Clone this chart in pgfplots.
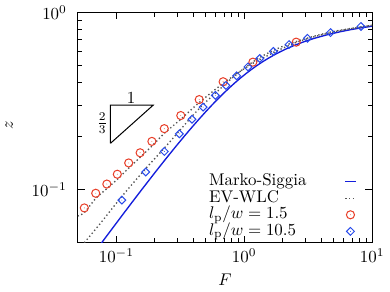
\documentclass[border=0pt]{standalone}
\usepackage{pgfplots}
\pgfplotsset{compat=1.18}
\definecolor{msblue}{RGB}{20,30,220}
\definecolor{dblue}{RGB}{40,75,235}
\definecolor{cred}{RGB}{232,62,40}
\definecolor{dgray}{RGB}{85,85,85}
\pgfdeclareplotmark{odot}{%
  \pgfpathcircle{\pgfpoint{0pt}{0pt}}{\pgfplotmarksize}\pgfusepathqstroke
  \pgfpathcircle{\pgfpoint{0pt}{0pt}}{0.25pt}\pgfusepathqfill}
\pgfdeclareplotmark{ddot}{%
  \pgfpathmoveto{\pgfpoint{0pt}{\pgfplotmarksize}}%
  \pgfpathlineto{\pgfpoint{\pgfplotmarksize}{0pt}}%
  \pgfpathlineto{\pgfpoint{0pt}{-\pgfplotmarksize}}%
  \pgfpathlineto{\pgfpoint{-\pgfplotmarksize}{0pt}}%
  \pgfpathclose\pgfusepathqstroke
  \pgfpathcircle{\pgfpoint{0pt}{0pt}}{0.25pt}\pgfusepathqfill}
\pgfplotsset{
  lineleg/.style={legend image code/.code={\draw[##1, draw=#1] (0.19cm,0cm) -- (0.41cm,0cm);}},
}
\begin{document}
\begin{tikzpicture}
\begin{axis}[
  xmode=log, ymode=log,
  xmin=0.05, xmax=10, ymin=0.05, ymax=1,
  width=174pt, height=136pt, scale only axis,
  axis line style={line width=0.7pt},
  tick style={line width=0.5pt, black},
  major tick length=4pt, minor tick length=2.5pt,
  tick align=inside,
  xtick={0.1,1,10}, ytick={0.1,1},
  yticklabel style={xshift=-3pt},
  xlabel={$F$}, ylabel={$z$},
  ylabel style={at={(axis description cs:-0.233,0.508)}, anchor=center, rotate=0},
  legend plot pos=right,
  legend cell align=left,
  legend style={draw=none, fill=none, inner sep=0pt,
    at={(axis description cs:0.445,0.30)}, anchor=north west,
    nodes={inner sep=0pt, text height=7pt, text depth=2.2pt},
    row sep=0.6pt, column sep=22.5pt},
]
% Marko-Siggia
\addplot[color=msblue, line width=0.8pt, lineleg=msblue]
coordinates {
(0.069116,0.045) (0.07701,0.05) (0.092933,0.06) (0.10905,0.07) (0.133606,0.085)
(0.15864,0.1) (0.201531,0.125) (0.24602,0.15) (0.292309,0.175) (0.340625,0.2)
(0.391233,0.225) (0.44444,0.25) (0.500624,0.275) (0.560204,0.3) (0.623697,0.325)
(0.691716,0.35) (0.765,0.375) (0.844444,0.4) (0.931144,0.425) (1.026446,0.45)
(1.132029,0.475) (1.25,0.5) (1.383033,0.525) (1.534568,0.55) (1.709083,0.575)
(1.9125,0.6) (2.101302,0.62) (2.440816,0.65) (2.871406,0.68) (3.227778,0.7)
(3.658776,0.72) (4.5,0.75) (5.695289,0.78) (6.8,0.8) (8.286049,0.82) (10.355625,0.84)
};
\addlegendentry{Marko-Siggia}
% EV-WLC, lp/w = 1.5
\addplot[color=dgray, line width=0.8pt, dash pattern=on 0.8pt off 1.5pt, smooth, lineleg=dgray]
coordinates {
(0.0497,0.07064) (0.05617,0.07385) (0.06903,0.08882) (0.08427,0.1009) (0.1018,0.1139)
(0.1249,0.1318) (0.1535,0.1517) (0.1897,0.1756) (0.2374,0.2073) (0.3192,0.2492)
(0.4448,0.3096) (0.6841,0.3970) (1.168,0.5157) (2.552,0.6780) (5.141,0.7800) (10.05,0.8474)
};
\addlegendentry{EV-WLC}
% EV-WLC, lp/w = 10.5
\addplot[color=dgray, line width=0.8pt, dash pattern=on 0.8pt off 1.5pt, smooth, forget plot]
coordinates {
(0.05617,0.04985) (0.07447,0.06376) (0.1104,0.09112) (0.1698,0.1310) (0.2374,0.1712)
(0.3110,0.2140) (0.3912,0.2590) (0.4775,0.3018) (0.5941,0.3495) (0.8730,0.4480)
(1.322,0.5564) (2.244,0.6651) (4.709,0.7750) (10.05,0.8474)
};
% lp/w = 1.5
\addplot[only marks, mark=odot, mark size=2.4pt, color=cred, mark options={line width=0.6pt}]
coordinates {
(0.0562,0.0785) (0.0690,0.0950) (0.0843,0.1071) (0.1018,0.1217) (0.1249,0.1410)
(0.1535,0.1610) (0.1897,0.1867) (0.2371,0.2204) (0.3191,0.2614) (0.4446,0.3218)
(0.684,0.406) (1.168,0.524) (2.55,0.680)
};
\addlegendentry{$l_\mathrm{p}/w = 1.5$}
% lp/w = 10.5
\addplot[only marks, mark=ddot, mark size=2.3pt, color=dblue, mark options={line width=0.6pt}]
coordinates {
(0.1104,0.0869) (0.1698,0.1253) (0.2374,0.1637) (0.3110,0.2060) (0.3908,0.2492)
(0.4775,0.2917) (0.5942,0.3399) (0.7194,0.387) (0.873,0.4385) (1.069,0.492)
(1.322,0.5495) (1.692,0.603) (2.243,0.659) (3.119,0.715) (4.73,0.770) (8.18,0.834)
};
\addlegendentry{$l_\mathrm{p}/w = 10.5$}
% slope triangle
\addplot[black, line width=0.6pt, forget plot] coordinates {
(0.0899,0.1820) (0.1941,0.2992) (0.0899,0.2992) (0.0899,0.1820)
};
\node[anchor=south, inner sep=1pt] at (axis cs:0.1303,0.2992) {$1$};
\node[anchor=east, inner sep=1.5pt] at (axis cs:0.0899,0.236) {$\frac{2}{3}$};
\end{axis}
\end{tikzpicture}
\end{document}
